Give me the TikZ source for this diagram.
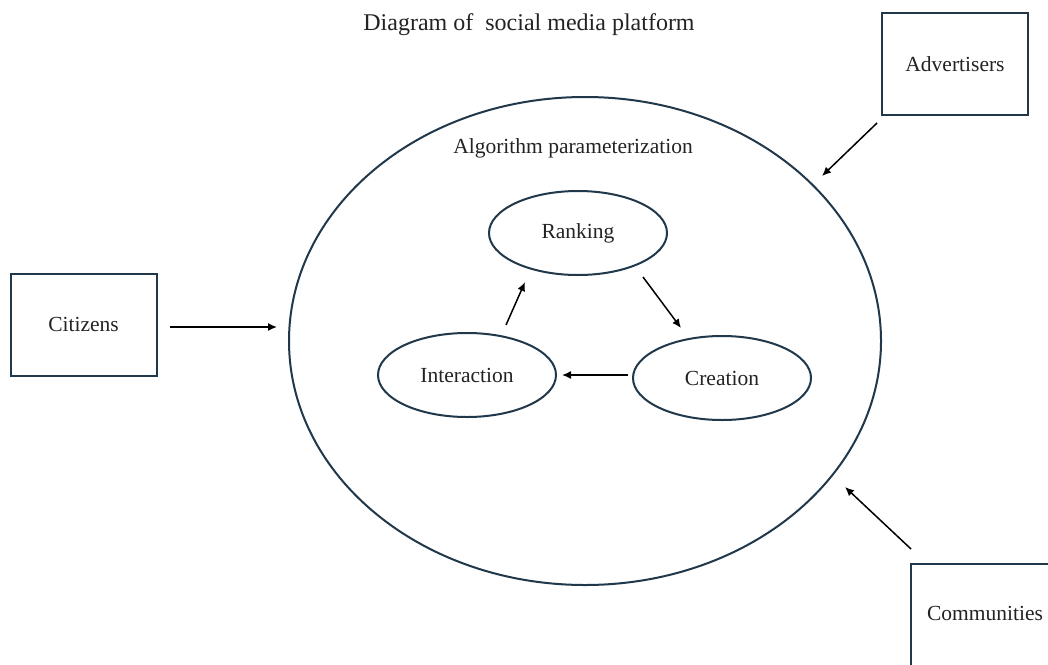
\documentclass[tikz,border=0pt]{standalone}
\usepackage{fontspec}
\setmainfont{Liberation Serif}
\usetikzlibrary{shapes.geometric,arrows.meta}
\definecolor{edge}{RGB}{32,56,74}
\definecolor{ink}{RGB}{35,35,35}
\tikzset{
  shapeline/.style={draw=edge,line width=2pt},
  actor/.style={shapeline,rectangle,minimum width=146pt,minimum height=102pt,inner sep=0pt,font=\fontsize{21.5}{25}\selectfont,text=ink},
  stage/.style={shapeline,ellipse,minimum width=178pt,minimum height=84pt,inner sep=0pt,font=\fontsize{21.5}{25}\selectfont,text=ink},
  flow/.style={draw=black,line width=1.5pt,-{Latex[length=9pt,width=8pt]}},
  caption/.style={font=\fontsize{24}{28}\selectfont,text=ink,inner sep=0pt}
}
\begin{document}
\begin{tikzpicture}[x=1pt,y=-1pt]
\useasboundingbox (0,0) rectangle (1048,664);
\fill[white] (0,0) rectangle (1048,664);
% platform circle
\node[shapeline,ellipse,minimum width=592pt,minimum height=488pt,inner sep=0pt] (platform) at (585,341) {};
\node[caption] (title) at (529,25) {Diagram of\ \ social media platform};
\node[caption,font=\fontsize{21.5}{25}\selectfont] (algo) at (573,148) {Algorithm parameterization};
% stages
\node[stage] (rank) at (578,233) {Ranking};
\node[stage] (inter) at (467,375) {Interaction};
\node[stage] (create) at (722,378) {Creation};
% actors
\node[actor] (cit) at (83.5,324.5) {Citizens};
\node[actor] (adv) at (955,64) {Advertisers};
\node[actor,anchor=north west,minimum height=120pt] (comm) at (910,563) {};
\node[font=\fontsize{21.5}{25}\selectfont,text=ink] (commtext) at (985,613) {Communities};
% arrows between stages
\coordinate (i1) at (506,325); \coordinate (r1) at (525,282);
\coordinate (r2) at (643,277); \coordinate (c1) at (681,328);
\coordinate (c2) at (628,375); \coordinate (i2) at (562,375);
\draw[flow] (i1) -- (r1);
\draw[flow] (r2) -- (c1);
\draw[flow] (c2) -- (i2);
% actor arrows
\coordinate (citS) at (170,327); \coordinate (citE) at (277,327);
\coordinate (advS) at (877,123); \coordinate (advE) at (822,176);
\coordinate (comS) at (911,549); \coordinate (comE) at (845,487);
\draw[flow] (citS) -- (citE);
\draw[flow] (advS) -- (advE);
\draw[flow] (comS) -- (comE);
\end{tikzpicture}
\end{document}
